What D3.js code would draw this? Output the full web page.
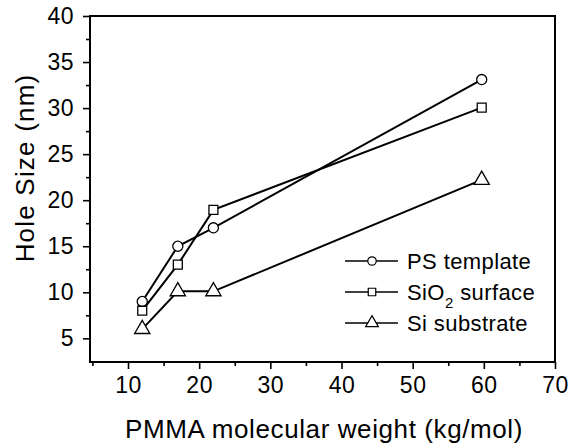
<!DOCTYPE html>
<html>
<head>
<meta charset="utf-8">
<script src="https://cdn.jsdelivr.net/npm/d3@7"></script>
<style>
  body { margin: 0; background: #fff; }
  svg text { font-family: "Liberation Sans", Arial, sans-serif; fill: #000; }
</style>
</head>
<body>
<script>
// data
var weights = [12, 17, 22, 59.7];
var psTemplate = [9, 15, 17, 33.1];
var sio2Surface = [8, 13, 18.95, 30.05];
var siSubstrate = [6, 10.1, 10.1, 22.2];
var seriesNames = ["PS template", "SiO2 surface", "Si substrate"];
var xTicks = [10, 20, 30, 40, 50, 60, 70];
var xMinor = [5, 15, 25, 35, 45, 55, 65];
var yTicks = [5, 10, 15, 20, 25, 30, 35, 40];
var yMinor = [7.5, 12.5, 17.5, 22.5, 27.5, 32.5, 37.5];

var W = 582, H = 446;
var pl = 90, pt = 16, pr = 555, pb = 362;

var svg = d3.select("body").append("svg")
  .attr("width", W)
  .attr("height", H);

var x = d3.scaleLinear().domain([4.66, 70]).range([pl, pr]);
var y = d3.scaleLinear().domain([2.43, 40]).range([pb, pt]);

// minor ticks first, then majors with labels
svg.append("g")
  .attr("transform", "translate(0," + pb + ")")
  .call(d3.axisBottom(x).tickValues(xMinor).tickSize(4).tickFormat(""))
  .call(g => g.select(".domain").remove());
svg.append("g")
  .attr("transform", "translate(" + pl + ",0)")
  .call(d3.axisLeft(y).tickValues(yMinor).tickSize(4).tickFormat(""))
  .call(g => g.select(".domain").remove());

var xAxis = svg.append("g")
  .attr("transform", "translate(0," + pb + ")")
  .call(d3.axisBottom(x).tickValues(xTicks).tickSize(7).tickPadding(8).tickSizeOuter(0));
xAxis.select(".domain").remove();
xAxis.attr("font-size", null).attr("font-family", null);
xAxis.selectAll("text").style("font-size", "23px").style("letter-spacing", "0.5px");

var yAxis = svg.append("g")
  .attr("transform", "translate(" + pl + ",0)")
  .call(d3.axisLeft(y).tickValues(yTicks).tickSize(7).tickPadding(9).tickSizeOuter(0));
yAxis.select(".domain").remove();
yAxis.attr("font-size", null).attr("font-family", null);
yAxis.selectAll("text").style("font-size", "23px").style("letter-spacing", "0.5px");

svg.selectAll(".tick line").attr("stroke", "#000").attr("stroke-width", 1.6);

// plot frame
svg.append("rect")
  .attr("x", pl).attr("y", pt)
  .attr("width", pr - pl).attr("height", pb - pt)
  .attr("fill", "none").attr("stroke", "#000").attr("stroke-width", 2);

// axis titles
svg.append("text")
  .attr("x", 324)
  .attr("y", 438)
  .attr("text-anchor", "middle")
  .style("font-size", "26px")
  .style("letter-spacing", "0.6px")
  .text("PMMA molecular weight (kg/mol)");

svg.append("text")
  .attr("transform", "translate(34,168) rotate(-90)")
  .attr("text-anchor", "middle")
  .style("font-size", "26px")
  .style("letter-spacing", "1.2px")
  .text("Hole Size (nm)");

var series = [psTemplate, sio2Surface, siSubstrate];
var shapes = [d3.symbolCircle, d3.symbolSquare, d3.symbolTriangle];
var sizes = [80, 80, 100];

var line = d3.line()
  .x((d, i) => x(weights[i]))
  .y(d => y(d));

series.forEach(function(vals) {
  svg.append("path")
    .datum(vals)
    .attr("d", line)
    .attr("fill", "none")
    .attr("stroke", "#000")
    .attr("stroke-width", 2);
});

series.forEach(function(vals, k) {
  svg.selectAll(".m" + k)
    .data(vals)
    .enter().append("path")
    .attr("class", "m" + k)
    .attr("transform", (d, i) => "translate(" + x(weights[i]) + "," + y(d) + ")")
    .attr("d", d3.symbol().type(shapes[k]).size(sizes[k]))
    .attr("fill", "#fff")
    .attr("stroke", "#000")
    .attr("stroke-width", 1.3);
});

// legend
var legY = [261, 292, 323];
var leg = svg.append("g");
seriesNames.forEach(function(name, k) {
  var yy = legY[k];
  leg.append("line")
    .attr("x1", 345).attr("x2", 398)
    .attr("y1", yy).attr("y2", yy)
    .attr("stroke", "#000").attr("stroke-width", 1.6);
  leg.append("path")
    .attr("transform", "translate(372," + yy + ")")
    .attr("d", d3.symbol().type(shapes[k]).size(sizes[k] * 0.7))
    .attr("fill", "#fff").attr("stroke", "#000").attr("stroke-width", 1.2);
  var t = leg.append("text")
    .attr("x", 407).attr("y", yy + 8)
    .style("font-size", "22px")
    .style("letter-spacing", "0.4px");
  if (name === "SiO2 surface") {
    t.append("tspan").text("SiO");
    t.append("tspan").attr("dy", 8).style("font-size", "15px").text("2");
    t.append("tspan").attr("dy", -8).text(" surface");
  } else {
    t.text(name);
  }
});
</script>
</body>
</html>
